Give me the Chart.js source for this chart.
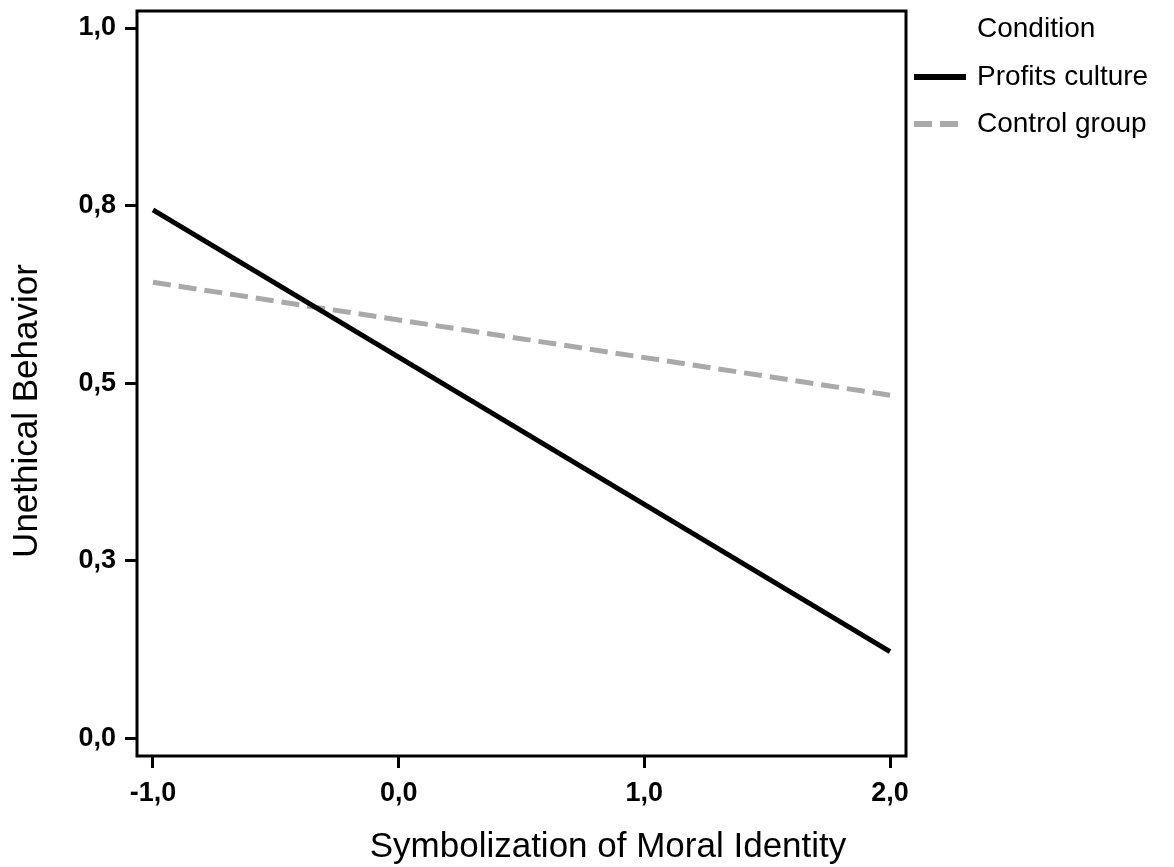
<!DOCTYPE html>
<html>
<head>
<meta charset="utf-8">
<script src="https://cdn.jsdelivr.net/npm/chart.js@4"></script>
<style>
  body { margin: 0; background: #fff; }
  canvas { display: block; }
</style>
</head>
<body>
<canvas id="myChart" width="1174" height="867"></canvas>
<script>
// data
var xValues = [-1, 2];
var profits = [0.744, 0.122];
var control = [0.642, 0.483];
var seriesNames = ['Profits culture', 'Control group'];
var legendTitle = 'Condition';
var xTicks = [-1, 0, 1, 2];
var xTickLabels = ['-1,0', '0,0', '1,0', '2,0'];
var yTicks = [0, 0.25, 0.5, 0.75, 1];
var yTickLabels = ['0,0', '0,3', '0,5', '0,8', '1,0'];
var xTitle = 'Symbolization of Moral Identity';
var yTitle = 'Unethical Behavior';

var FONT = '"Liberation Sans", Arial, sans-serif';

function toPoints(ys) {
    return xValues.map(function (x, i) { return { x: x, y: ys[i] }; });
}

// frame, axis titles and legend
var extras = {
    id: 'extras',
    afterDraw: function (chart) {
        let c = chart.ctx;
        let a = chart.chartArea;
        c.save();
        c.strokeStyle = '#000';
        c.lineWidth = 3;
        c.strokeRect(a.left, a.top, a.right - a.left, a.bottom - a.top);

        c.fillStyle = '#000';
        c.font = '35px ' + FONT;
        c.textAlign = 'center';
        c.textBaseline = 'alphabetic';
        c.fillText(xTitle, 608, 857);

        c.save();
        c.translate(37, 411);
        c.rotate(-Math.PI / 2);
        c.fillText(yTitle, 0, 0);
        c.restore();

        c.font = '28px ' + FONT;
        c.textAlign = 'left';
        c.textBaseline = 'middle';
        c.fillText(legendTitle, 977, 29);
        chart.data.datasets.forEach(function (ds, i) {
            let y = 77 + i * 47;
            c.beginPath();
            c.strokeStyle = ds.borderColor;
            c.lineWidth = ds.borderWidth + 1;
            c.setLineDash(ds.borderDash || []);
            c.moveTo(914, y);
            c.lineTo(966, y);
            c.stroke();
            c.setLineDash([]);
            c.fillText(ds.label, 977, y);
        });
        c.restore();
    }
};

function noPad(scale) {
    scale.paddingTop = 0;
    scale.paddingBottom = 0;
    scale.paddingLeft = 0;
    scale.paddingRight = 0;
}

var ctx = document.getElementById('myChart');
var myChart = new Chart(ctx, {
    type: 'line',
    data: {
        datasets: [
            {
                label: seriesNames[0],
                data: toPoints(profits),
                borderColor: '#000000',
                borderWidth: 5,
                pointRadius: 0,
                fill: false
            },
            {
                label: seriesNames[1],
                data: toPoints(control),
                borderColor: '#a9a9a9',
                borderWidth: 5,
                borderDash: [18, 8],
                pointRadius: 0,
                fill: false
            }
        ]
    },
    options: {
        responsive: false,
        animation: false,
        layout: { padding: { top: 11, right: 268, left: 0, bottom: 0 } },
        plugins: {
            legend: { display: false },
            tooltip: { enabled: false }
        },
        scales: {
            x: {
                type: 'linear',
                min: -1.065,
                max: 2.065,
                afterBuildTicks: function (scale) {
                    scale.ticks = xTicks.map(function (v) { return { value: v }; });
                },
                afterFit: function (scale) { scale.height = 111; noPad(scale); },
                grid: {
                    drawOnChartArea: false,
                    tickLength: 12,
                    tickWidth: 3,
                    tickColor: '#000'
                },
                border: { display: false },
                ticks: {
                    color: '#000',
                    padding: 9,
                    maxRotation: 0,
                    font: { family: FONT, size: 27, weight: 'bold' },
                    callback: function (v) {
                        let i = xTicks.indexOf(v);
                        return i >= 0 ? xTickLabels[i] : '';
                    }
                }
            },
            y: {
                type: 'linear',
                min: -0.025,
                max: 1.024,
                afterBuildTicks: function (scale) {
                    scale.ticks = yTicks.map(function (v) { return { value: v }; });
                },
                afterFit: function (scale) { scale.width = 137; noPad(scale); },
                grid: {
                    drawOnChartArea: false,
                    tickLength: 12,
                    tickWidth: 3,
                    tickColor: '#000'
                },
                border: { display: false },
                ticks: {
                    color: '#000',
                    padding: 9,
                    font: { family: FONT, size: 27, weight: 'bold' },
                    callback: function (v) {
                        let i = yTicks.indexOf(v);
                        return i >= 0 ? yTickLabels[i] : '';
                    }
                }
            }
        }
    },
    plugins: [extras]
});
</script>
</body>
</html>
